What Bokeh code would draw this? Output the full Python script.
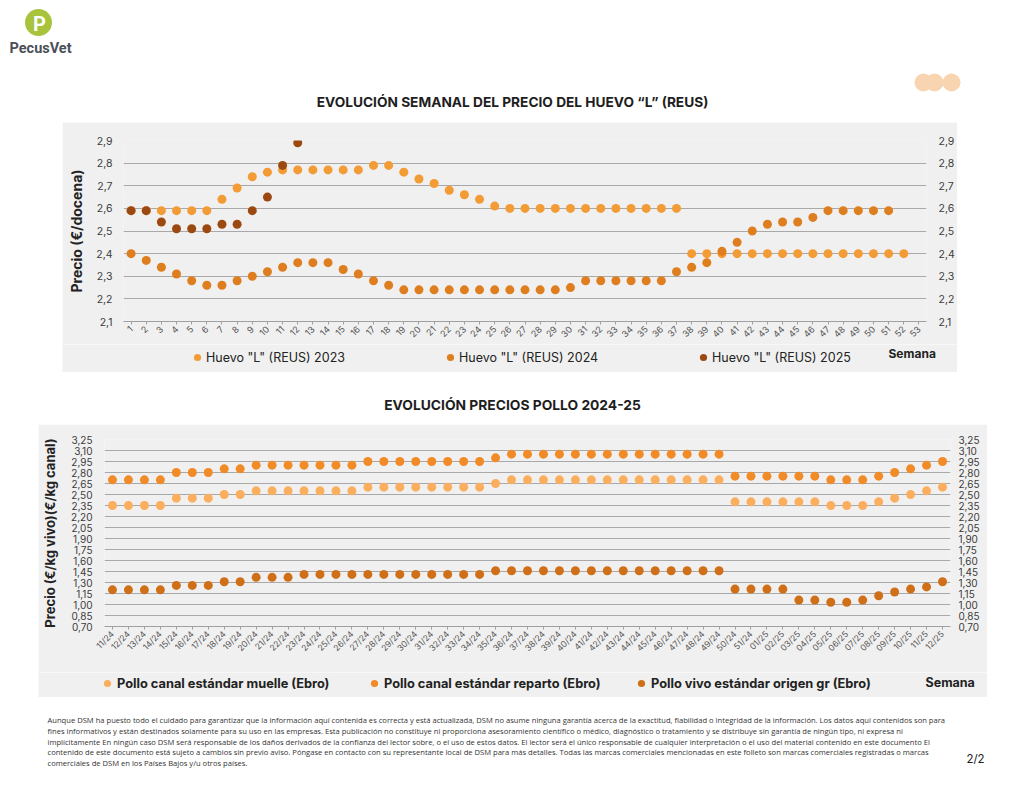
import math
from bokeh.plotting import figure
from bokeh.models import (Range1d, FactorRange, LinearAxis, FixedTicker, CustomJSTickFormatter,
                          Legend, LegendItem, Label, Spacer)
from bokeh.layouts import column, row
from bokeh.embed import file_html
from bokeh.resources import INLINE
from bokeh.core.properties import value

FONT = "Inter"
PANEL = "#F0F0F0"
GRID = "#A9A9A9"
NAN = float("nan")

# ------------------------------------------------------------------ data: eggs
semanas_huevo = ["1", "2", "3", "4", "5", "6", "7", "8", "9", "10", "11", "12", "13", "14",
                 "15", "16", "17", "18", "19", "20", "21", "22", "23", "24", "25", "26", "27",
                 "28", "29", "30", "31", "32", "33", "34", "35", "36", "37", "38", "39", "40",
                 "41", "42", "43", "44", "45", "46", "47", "48", "49", "50", "51", "52", "53"]
huevo_2023 = [2.59, 2.59, 2.59, 2.59, 2.59, 2.59, 2.64, 2.69, 2.74, 2.76, 2.77, 2.77, 2.77,
              2.77, 2.77, 2.77, 2.79, 2.79, 2.76, 2.73, 2.71, 2.68, 2.66, 2.64, 2.61, 2.60,
              2.60, 2.60, 2.60, 2.60, 2.60, 2.60, 2.60, 2.60, 2.60, 2.60, 2.60, 2.40, 2.40,
              2.40, 2.40, 2.40, 2.40, 2.40, 2.40, 2.40, 2.40, 2.40, 2.40, 2.40, 2.40, 2.40]
huevo_2024 = [2.40, 2.37, 2.34, 2.31, 2.28, 2.26, 2.26, 2.28, 2.30, 2.32, 2.34, 2.36, 2.36,
              2.36, 2.33, 2.31, 2.28, 2.26, 2.24, 2.24, 2.24, 2.24, 2.24, 2.24, 2.24, 2.24,
              2.24, 2.24, 2.24, 2.25, 2.28, 2.28, 2.28, 2.28, 2.28, 2.28, 2.32, 2.34, 2.36,
              2.41, 2.45, 2.50, 2.53, 2.54, 2.54, 2.56, 2.59, 2.59, 2.59, 2.59, 2.59]
huevo_2025 = [2.59, 2.59, 2.54, 2.51, 2.51, 2.51, 2.53, 2.53, 2.59, 2.65, 2.79, 2.89]
ticks_huevo = [2.1, 2.2, 2.3, 2.4, 2.5, 2.6, 2.7, 2.8, 2.9]
series_huevo = ['Huevo "L" (REUS) 2023', 'Huevo "L" (REUS) 2024', 'Huevo "L" (REUS) 2025']

# ------------------------------------------------------------------ data: chicken
semanas_pollo = ["11/24", "12/24", "13/24", "14/24", "15/24", "16/24", "17/24", "18/24",
                 "19/24", "20/24", "21/24", "22/24", "23/24", "24/24", "25/24", "26/24",
                 "27/24", "28/24", "29/24", "30/24", "31/24", "32/24", "33/24", "34/24",
                 "35/24", "36/24", "37/24", "38/24", "39/24", "40/24", "41/24", "42/24",
                 "43/24", "44/24", "45/24", "46/24", "47/24", "48/24", "49/24", "50/24",
                 "51/24", "01/25", "02/25", "03/25", "04/25", "05/25", "06/25", "07/25",
                 "08/25", "09/25", "10/25", "11/25", "12/25"]
pollo_muelle = [2.35, 2.35, 2.35, 2.35, 2.45, 2.45, 2.45, 2.50, 2.50, 2.55, 2.55, 2.55, 2.55,
                2.55, 2.55, 2.55, 2.60, 2.60, 2.60, 2.60, 2.60, 2.60, 2.60, 2.60, 2.65, 2.70,
                2.70, 2.70, 2.70, 2.70, 2.70, 2.70, 2.70, 2.70, 2.70, 2.70, 2.70, 2.70, 2.70,
                2.40, 2.40, 2.40, 2.40, 2.40, 2.40, 2.35, 2.35, 2.35, 2.40, 2.45, 2.50, 2.55,
                2.60]
pollo_reparto = [2.70, 2.70, 2.70, 2.70, 2.80, 2.80, 2.80, 2.85, 2.85, 2.90, 2.90, 2.90, 2.90,
                 2.90, 2.90, 2.90, 2.95, 2.95, 2.95, 2.95, 2.95, 2.95, 2.95, 2.95, 3.00, 3.05,
                 3.05, 3.05, 3.05, 3.05, 3.05, 3.05, 3.05, 3.05, 3.05, 3.05, 3.05, 3.05, 3.05,
                 2.75, 2.75, 2.75, 2.75, 2.75, 2.75, 2.70, 2.70, 2.70, 2.75, 2.80, 2.85, 2.90,
                 2.95]
pollo_vivo = [1.20, 1.20, 1.20, 1.20, 1.26, 1.26, 1.26, 1.31, 1.31, 1.37, 1.37, 1.37, 1.41,
              1.41, 1.41, 1.41, 1.41, 1.41, 1.41, 1.41, 1.41, 1.41, 1.41, 1.41, 1.46, 1.46,
              1.46, 1.46, 1.46, 1.46, 1.46, 1.46, 1.46, 1.46, 1.46, 1.46, 1.46, 1.46, 1.46,
              1.21, 1.21, 1.21, 1.21, 1.06, 1.06, 1.03, 1.03, 1.06, 1.12, 1.17, 1.21, 1.24,
              1.31]
ticks_pollo = [0.70, 0.85, 1.00, 1.15, 1.30, 1.45, 1.60, 1.75, 1.90, 2.05, 2.20, 2.35, 2.50,
               2.65, 2.80, 2.95, 3.10, 3.25]
series_pollo = ["Pollo canal estándar muelle (Ebro)", "Pollo canal estándar reparto (Ebro)",
                "Pollo vivo estándar origen gr (Ebro)"]

COL_HUEVO = ["#F39B35", "#DF7E1E", "#9C4911"]
COL_POLLO = ["#FBAE5E", "#F18B27", "#CF7019"]

FOOTER = [
    "Aunque DSM ha puesto todo el cuidado para garantizar que la información aquí contenida es correcta y está actualizada, DSM no asume ninguna garantía acerca de la exactitud, fiabilidad o integridad de la información. Los datos aquí contenidos son para",
    "fines informativos y están destinados solamente para su uso en las empresas. Esta publicación no constituye ni proporciona asesoramiento científico o médico, diagnóstico o tratamiento y se distribuye sin garantía de ningún tipo, ni expresa ni",
    "implícitamente En ningún caso DSM será responsable de los daños derivados de la confianza del lector sobre, o el uso de estos datos. El lector será el único responsable de cualquier interpretación o el uso del material contenido en este documento El",
    "contenido de este documento está sujeto a cambios sin previo aviso. Póngase en contacto con su representante local de DSM para más detalles. Todas las marcas comerciales mencionadas en este folleto son marcas comerciales registradas o marcas",
    "comerciales de DSM en los Países Bajos y/u otros países.",
]


def deco(w, h, bg="white"):
    d = figure(width=w, height=h, x_range=Range1d(0, w), y_range=Range1d(h, 0),
               output_backend="svg", toolbar_location=None, min_border=0,
               x_axis_type=None, y_axis_type=None)
    d.grid.visible = False
    d.outline_line_color = None
    d.background_fill_color = bg
    d.border_fill_color = bg
    return d


def make_chart(w, h, factors, yr, ticks, decimals, borders, ytitle, ytitle_size, title_standoff,
               lab_size, left_stand, right_stand, xlab_size):
    p = figure(width=w, height=h, x_range=FactorRange(factors=factors),
               y_range=Range1d(yr[0], yr[1]), output_backend="svg", toolbar_location=None,
               min_border_left=borders[0], min_border_right=borders[1],
               min_border_top=borders[2], min_border_bottom=borders[3])
    p.background_fill_color = PANEL
    p.border_fill_color = PANEL
    p.outline_line_color = None
    p.xgrid.visible = False
    p.ygrid.ticker = FixedTicker(ticks=ticks)
    p.ygrid.grid_line_color = GRID
    p.ygrid.grid_line_width = 1
    p.add_layout(LinearAxis(), "right")
    code = "return tick.toFixed(%d).replace('.', ',');" % decimals
    for i, ax in enumerate(p.yaxis):
        ax.ticker = FixedTicker(ticks=ticks)
        ax.formatter = CustomJSTickFormatter(code=code)
        ax.major_tick_line_color = None
        ax.minor_tick_line_color = None
        ax.major_tick_out = 0
        ax.minor_tick_out = 0
        ax.major_tick_in = 0
        ax.minor_tick_in = 0
        ax.axis_line_color = None
        ax.major_label_text_font = FONT
        ax.major_label_text_font_size = lab_size
        ax.major_label_text_color = "#3C3C3C"
        ax.major_label_standoff = left_stand if i == 0 else right_stand
    p.yaxis[0].axis_label = ytitle
    p.yaxis[0].axis_label_text_font = FONT
    p.yaxis[0].axis_label_text_font_style = "bold"
    p.yaxis[0].axis_label_text_font_size = ytitle_size
    p.yaxis[0].axis_label_text_color = "#222222"
    p.yaxis[0].axis_label_standoff = title_standoff
    xa = p.xaxis[0]
    xa.major_label_orientation = math.pi / 4
    xa.major_label_text_font = FONT
    xa.major_label_text_font_size = xlab_size
    xa.major_label_text_color = "#555555"
    xa.axis_line_color = "#A0A0A0"
    xa.major_tick_line_color = "#A0A0A0"
    xa.major_tick_out = 3
    xa.major_tick_in = 0
    xa.major_label_standoff = 3
    return p


def legend_strip(w, h, labels, colors, loc, stride, standoff, font_size, font_style,
                 sem_x, sem_y, sem_size):
    s = deco(w, h, PANEL)
    # proxy renderers (one NaN point each, never visible) that carry the series colours
    proxies = [s.scatter(x=[NAN], y=[NAN], marker="circle", size=8, fill_color=c,
                         line_color=None) for c in colors]
    leg = Legend(items=[LegendItem(label=lab, renderers=[r]) for lab, r in zip(labels, proxies)],
                 orientation="horizontal", location=loc, glyph_width=18, glyph_height=18,
                 label_standoff=standoff, label_width=stride - 18 - standoff, label_height=18,
                 spacing=0, padding=0, margin=0, background_fill_alpha=0,
                 border_line_color=None, label_text_font=FONT, label_text_font_size=font_size,
                 label_text_font_style=font_style, label_text_color="#222222")
    s.add_layout(leg)
    s.add_layout(Label(x=sem_x, y=sem_y, text="Semana", text_font=FONT,
                       text_font_size=sem_size, text_font_style="bold", text_color="#222222",
                       text_baseline="middle", text_align="left"))
    return s


# ------------------------------------------------------------------ chart 1 (egg)
p1 = make_chart(895, 222, semanas_huevo, (2.1, 2.9), ticks_huevo, 1, (61, 31, 18, 23),
                "Precio (€/docena)", "14px", 8, "10.5px", 11, 12, "9px")
for vals, col in zip([huevo_2023, huevo_2024, huevo_2025], COL_HUEVO):
    p1.scatter(x=semanas_huevo[:len(vals)], y=vals, size=9, marker="circle",
               fill_color=col, line_color=None)
s1 = legend_strip(895, 28, series_huevo, COL_HUEVO, (126, 6), 253, 0, "12.5px", "normal",
                  826, 9, "12px")

# ------------------------------------------------------------------ chart 2 (chicken)
p2 = make_chart(949, 248, semanas_pollo, (0.70, 3.25), ticks_pollo, 2, (66, 37, 15, 46),
                "Precio (€/kg vivo)(€/kg canal)", "13px", 10, "10px", 12, 8, "8.5px")
for vals, col in zip([pollo_muelle, pollo_reparto, pollo_vivo], COL_POLLO):
    p2.scatter(x=semanas_pollo, y=vals, size=9, marker="circle",
               fill_color=col, line_color=None)
s2 = legend_strip(949, 25, series_pollo, COL_POLLO, (60, 5), 267, 1, "12.8px", "bold",
                  887, 10, "12.5px")

# ------------------------------------------------------------------ header
hdr = deco(1024, 122)
hdr.circle(x=[38], y=[22], radius=13.5, fill_color="#A8C33C", line_color=None)
hdr.text(x=[39], y=[23], text=["P"], text_font=value("Roboto"), text_font_style="bold",
         text_font_size="20px", text_color="white", text_align="center", text_baseline="middle")
hdr.text(x=[9], y=[48], text=["PecusVet"], text_font=value("Roboto"),
         text_font_style="bold", text_font_size="14.5px", text_color="#4B5058",
         text_align="left", text_baseline="middle")
hdr.circle(x=[923, 934, 951], y=[82, 82, 82], radius=9, fill_color="#F8D4B0", line_color=None)
hdr.text(x=[512], y=[101], text=["EVOLUCIÓN SEMANAL DEL PRECIO DEL HUEVO “L” (REUS)"],
         text_font=value(FONT), text_font_style="bold", text_font_size="13.7px",
         text_color="#1E1E1E", text_align="center", text_baseline="middle")

mid = deco(1024, 52)
mid.text(x=[512], y=[32], text=["EVOLUCIÓN PRECIOS POLLO 2024-25"],
         text_font=value(FONT), text_font_style="bold", text_font_size="13.8px",
         text_color="#1E1E1E", text_align="center", text_baseline="middle")

ftr = deco(1024, 93)
ftr.text(x=[47, 47, 47, 47, 47], y=[22, 33, 44, 54.7, 65.7], text=FOOTER,
         text_font=value("Open Sans"), text_font_size="7.6px", text_color="#333333",
         text_align="left", text_baseline="middle")
ftr.text(x=[975], y=[61], text=["2/2"], text_font=value(FONT), text_font_size="11.5px",
         text_color="#222222", text_align="center", text_baseline="middle")

layout = column(
    hdr,
    row(Spacer(width=62, height=222), p1, Spacer(width=67, height=222)),
    row(Spacer(width=62, height=28), s1, Spacer(width=67, height=28)),
    mid,
    row(Spacer(width=38, height=248), p2, Spacer(width=37, height=248)),
    row(Spacer(width=38, height=25), s2, Spacer(width=37, height=25)),
    ftr,
)

open("out.html", "w").write(file_html(layout, INLINE))
